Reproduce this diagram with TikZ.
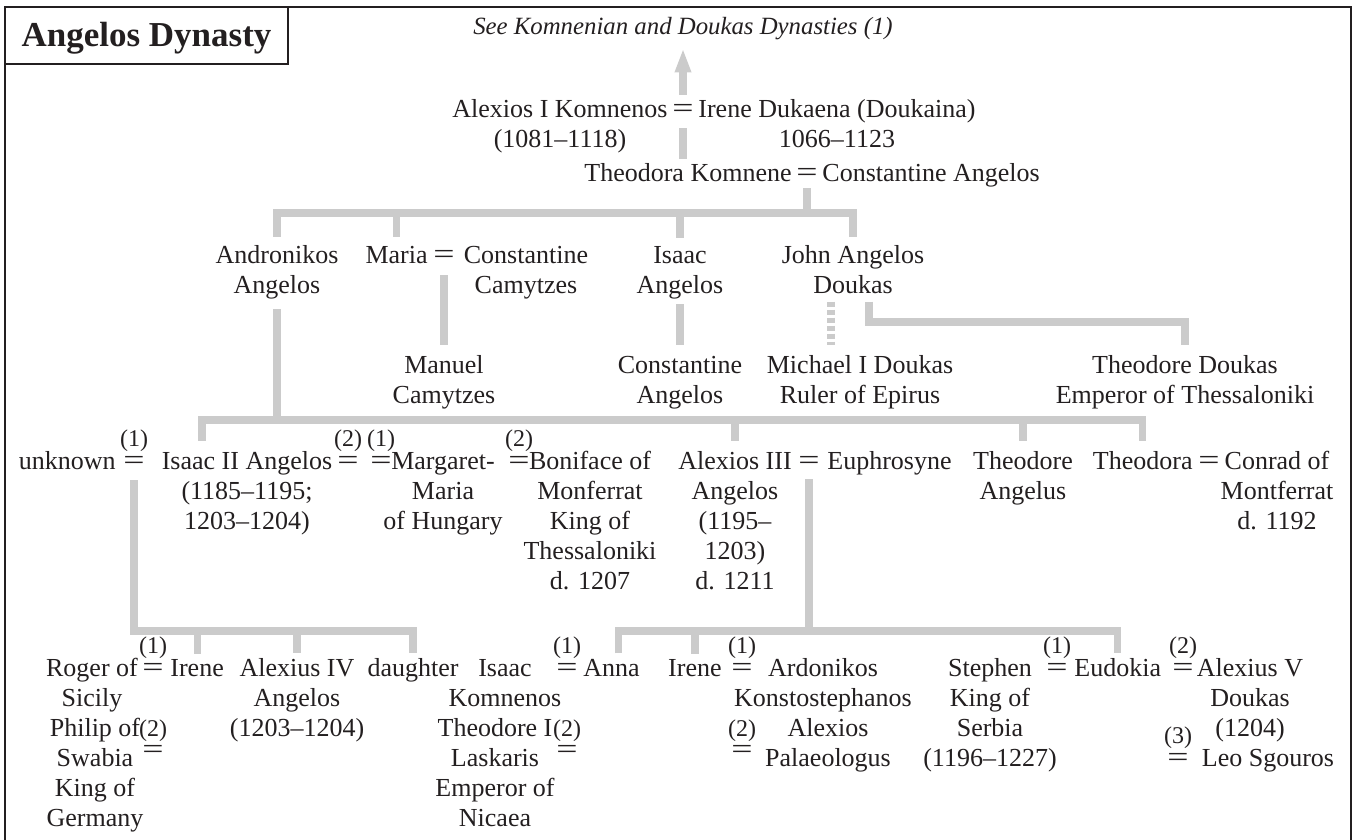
\documentclass[tikz,border=0pt]{standalone}
\usepackage{fontspec,graphicx}
\setmainfont{Liberation Serif}
\usetikzlibrary{arrows.meta,positioning}
\definecolor{ink}{HTML}{231F20}
\definecolor{twig}{HTML}{CBCBCB}
\newcommand{\wedsign}{\scalebox{1.45}[1.1]{=}}
\tikzset{
  pn/.style={inner sep=0pt,align=center,anchor=base,text=ink,font=\fontsize{13}{15}\selectfont},
  eq/.style={pn,text height=5pt,text depth=0pt},
  lbl/.style={inner sep=0pt,text=ink,font=\fontsize{12}{14}\selectfont},
  ln/.style={draw=twig,line width=3.6pt},
  dashln/.style={ln,dash pattern=on 2.5pt off 1.5pt},
  uparr/.style={ln,-{Triangle[length=12pt,width=7.5pt]}},
  frame/.style={draw=ink,line width=1pt},
  titlebox/.style={draw=ink,line width=0.75pt,minimum width=141.5pt,minimum height=28.5pt,inner sep=0pt,text height=11.5pt,text depth=0pt,text=ink,font=\fontsize{17.5}{20}\selectfont\bfseries},
}

\begin{document}
\begin{tikzpicture}[x=0.5pt,y=-0.5pt,node distance=3.5pt]
\useasboundingbox (0,0) rectangle (1355,840);
\draw[frame] (5,840) -- (5,7) -- (1351,7) -- (1351,840);
\node[titlebox] (title) at (146.5,35.5) {Angelos Dynasty};

% Komnenian ancestors (multi-line nodes sit on their last baseline)
\node[pn,font=\fontsize{12.4}{15}\selectfont\itshape,text depth=0pt] (see) at (683,35) {See Komnenian and Doukas Dynasties (1)};
\node[pn] (alexI) at (560,148) {Alexios I Komnenos\\(1081--1118)};
\node[eq] (m0) at (683,118) {\wedsign};
\node[pn] (ireneD) at (837,148) {Irene Dukaena (Doukaina)\\1066--1123};
\node[pn,anchor=base east] (theodora) at (792,182) {Theodora Komnene};
\node[eq] (m1) at (807,182) {\wedsign};
\node[pn,anchor=base west] (constA) at (822,182) {Constantine Angelos};

% children of Constantine
\node[pn] (andr) at (277,293) {Andronikos\\Angelos};
\node[pn,anchor=base east] (maria) at (428,263) {Maria};
\node[eq] (m2) at (444,263) {\wedsign};
\node[pn] (camy) at (526,293) {Constantine\\Camytzes};
\node[pn] (isaac) at (680,293) {Isaac\\Angelos};
\node[pn] (john) at (853,293) {John Angelos\\Doukas};
\node[pn] (manuel) at (444,403) {Manuel\\Camytzes};
\node[pn] (constB) at (680,403) {Constantine\\Angelos};
\node[pn] (michael) at (860,403) {Michael I Doukas\\Ruler of Epirus};
\node[pn] (theoD) at (1185,403) {Theodore Doukas\\Emperor of Thessaloniki};

% children of Andronikos
\node[pn,anchor=base east] (unk) at (116,469) {unknown};
\node[eq] (m3) at (134,469) {\wedsign};
\node[lbl,above=of m3] (w3) {(1)};
\node[pn] (isaacII) at (247,529) {Isaac II Angelos\\(1185--1195;\\1203--1204)};
\node[eq] (m4) at (348,469) {\wedsign};
\node[lbl,above=of m4] (w4) {(2)};
\node[eq] (m5) at (381,469) {\wedsign};
\node[lbl,above=of m5] (w5) {(1)};
\node[pn] (marg) at (443,529) {Margaret-\\Maria\\of Hungary};
\node[eq] (m6) at (519,469) {\wedsign};
\node[lbl,above=of m6] (w6) {(2)};
\node[pn] (bonif) at (590,589) {Boniface of\\Monferrat\\King of\\Thessaloniki\\d. 1207};
\node[pn] (alexIII) at (735,589) {Alexios III\\Angelos\\(1195--\\1203)\\d. 1211};
\node[eq] (m7) at (809,469) {\wedsign};
\node[pn,anchor=base west] (euph) at (827,469) {Euphrosyne};
\node[pn] (theoA) at (1023,499) {Theodore\\Angelus};
\node[pn,anchor=base east] (theodoraB) at (1193,469) {Theodora};
\node[eq] (m8) at (1209,469) {\wedsign};
\node[pn] (conrad) at (1277,529) {Conrad of\\Montferrat\\d. 1192};

% grandchildren
\node[pn] (roger) at (92,706) {Roger of\\Sicily};
\node[eq] (m9) at (153,676) {\wedsign};
\node[lbl,above=of m9] (w9) {(1)};
\node[pn,anchor=base west] (irene1) at (170,676) {Irene};
\node[pn] (philip) at (95,826) {Philip of\\Swabia\\King of\\Germany};
\node[lbl,anchor=base] (w10) at (153,736) {(2)};
\node[eq,below=of w10] (m10) {\wedsign};
\node[pn] (alexIV) at (297,736) {Alexius IV\\Angelos\\(1203--1204)};
\node[pn] (daughter) at (413,676) {daughter};
\node[pn] (isaacK) at (505,706) {Isaac\\Komnenos};
\node[eq] (m11) at (567,676) {\wedsign};
\node[lbl,above=of m11] (w11) {(1)};
\node[pn,anchor=base west] (anna) at (583,676) {Anna};
\node[pn] (theoL) at (495,826) {Theodore I\\Laskaris\\Emperor of\\Nicaea};
\node[lbl,anchor=base] (w12) at (567,736) {(2)};
\node[eq,below=of w12] (m12) {\wedsign};
\node[pn,anchor=base east] (irene2) at (722,676) {Irene};
\node[eq] (m13) at (742,676) {\wedsign};
\node[lbl,above=of m13] (w13) {(1)};
\node[pn] (ardon) at (823,706) {Ardonikos\\Konstostephanos};
\node[lbl,anchor=base] (w14) at (742,736) {(2)};
\node[eq,below=of w14] (m14) {\wedsign};
\node[pn] (alexP) at (828,766) {Alexios\\Palaeologus};
\node[pn] (stephen) at (990,766) {Stephen\\King of\\Serbia\\(1196--1227)};
\node[eq] (m15) at (1057,676) {\wedsign};
\node[lbl,above=of m15] (w15) {(1)};
\node[pn,anchor=base west] (eudokia) at (1074,676) {Eudokia};
\node[eq] (m16) at (1183,676) {\wedsign};
\node[lbl,above=of m16] (w16) {(2)};
\node[pn] (alexV) at (1250,736) {Alexius V\\Doukas\\(1204)};
\node[eq] (m17) at (1178,766) {\wedsign};
\node[lbl,above=of m17] (w17) {(3)};
\node[pn] (leo) at (1268,766) {Leo Sgouros};

% connectors
\coordinate (bar1) at (807,213);
\coordinate (kinkD) at (1185,322);
\coordinate (bar2) at (277,420);
\coordinate (bar3) at (134,631);
\coordinate (bar4) at (809,631);
\draw[uparr,shorten <=6.5pt,shorten >=6.5pt] (m0.north) -- (see.south);
\draw[ln,shorten <=5pt,shorten >=2.5pt] (m0.south) -- (m0.south |- theodora.north);
\draw[ln,shorten <=3pt] (m1.south) -- (bar1);
\draw[ln,shorten <=4pt,shorten >=4pt] (andr.north) |- (bar1) -| (john.north);
\draw[ln,shorten >=4pt] (bar1 -| maria.north) -- (maria.north);
\draw[ln,shorten >=4pt] (bar1 -| isaac.north) -- (isaac.north);
\draw[ln,shorten <=6pt,shorten >=5pt] (m2.south) -- (manuel.north);
\draw[ln,shorten <=2.5pt,shorten >=5pt] (isaac.south) -- (constB.north);
\draw[dashln,shorten <=4pt,shorten >=5pt] ([xshift=-11pt]john.south) -- ([xshift=-11pt]john.south |- michael.north);
\draw[ln,shorten <=4pt,shorten >=5pt] ([xshift=8pt]john.south) |- (kinkD) -- (theoD.north);
\draw[ln,shorten <=5pt] (andr.south) -- (bar2);
\draw[ln,shorten <=5pt,shorten >=5pt] ([xshift=-22.5pt]isaacII.north) |- (bar2) -| (theodoraB.north);
\draw[ln,shorten >=5pt] (bar2 -| alexIII.north) -- (alexIII.north);
\draw[ln,shorten >=5pt] (bar2 -| theoA.north) -- (theoA.north);
\draw[ln,shorten <=5.5pt,shorten >=2.5pt] (m3.south) -- (bar3) -| (daughter.north);
\draw[ln,shorten >=2.5pt] (bar3 -| irene1.north) -- (irene1.north);
\draw[ln,shorten >=2.5pt] (bar3 -| alexIV.north) -- (alexIV.north);
\draw[ln,shorten <=5pt] (m7.south) -- (bar4);
\draw[ln,shorten <=2.5pt,shorten >=2.5pt] ([xshift=3.5pt]anna.north) |- (bar4) -| (eudokia.north);
\draw[ln,shorten >=2.5pt] (bar4 -| irene2.north) -- (irene2.north);
\end{tikzpicture}
\end{document}
